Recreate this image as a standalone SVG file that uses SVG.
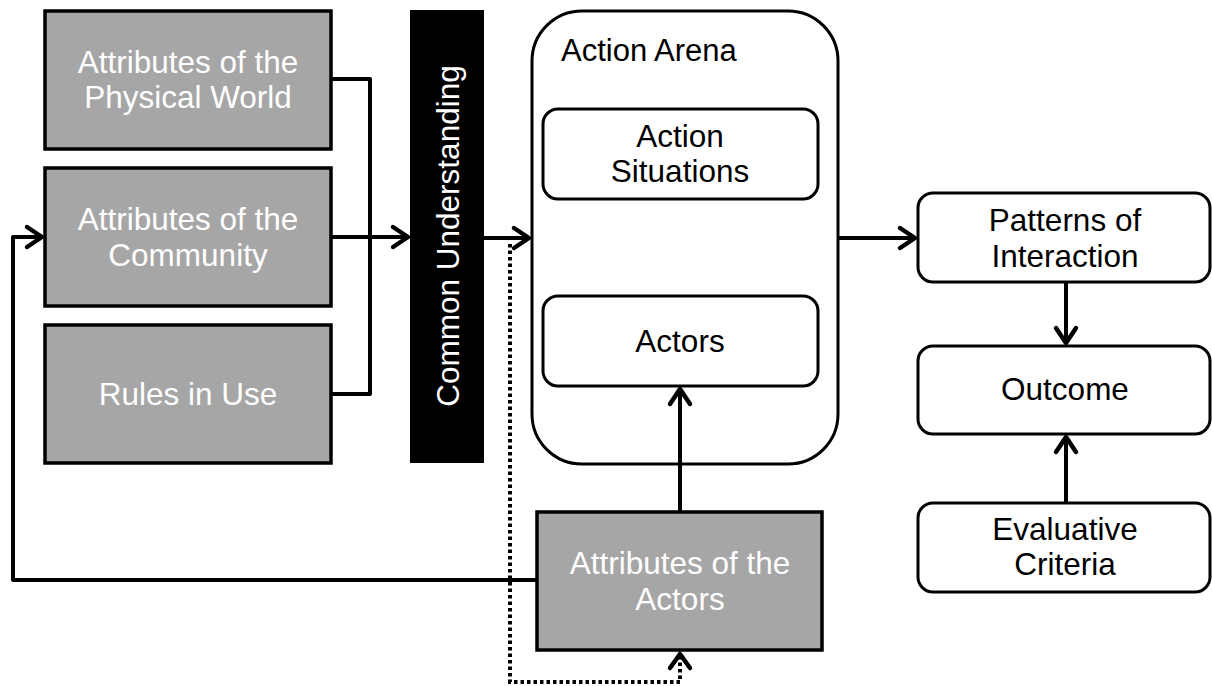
<svg xmlns="http://www.w3.org/2000/svg" width="1212" height="686" viewBox="0 0 1212 686">
<style>
.gray{fill:#a6a6a6;stroke:#000;stroke-width:3.5}
.white{fill:#fff;stroke:#000;stroke-width:3}
.wt{font-family:"Liberation Sans",Arial,sans-serif;font-size:31.5px;fill:#fff;text-anchor:middle}
.bt{font-family:"Liberation Sans",Arial,sans-serif;font-size:31.5px;fill:#000;text-anchor:middle}
.ln{fill:none;stroke:#000;stroke-width:4;stroke-linejoin:round}
.dot{fill:none;stroke:#000;stroke-width:4;stroke-dasharray:3.5 3}
</style>
<defs>
<marker id="ah" markerUnits="userSpaceOnUse" markerWidth="30" markerHeight="30" refX="0" refY="0" viewBox="-20 -15 25 30" orient="auto" overflow="visible">
<path d="M -15 -10 L 0 0 L -15 10" fill="none" stroke="#000" stroke-width="4.5" stroke-linecap="round" stroke-linejoin="round"/>
</marker>
</defs>
<rect width="1212" height="686" fill="#fff"/>
<g id="physical-world"><rect class="gray" x="45" y="11" width="286" height="138"/><text class="wt" x="188" y="73">Attributes of the</text><text class="wt" x="188" y="108">Physical World</text></g>
<g id="community"><rect class="gray" x="45" y="168" width="286" height="138"/><text class="wt" x="188" y="230">Attributes of the</text><text class="wt" x="188" y="266">Community</text></g>
<g id="rules"><rect class="gray" x="45" y="325" width="286" height="138"/><text class="wt" x="188" y="405">Rules in Use</text></g>
<g id="common-understanding"><rect x="410" y="10" width="74" height="453" fill="#000"/><text class="wt" font-size="31" transform="translate(459,236) rotate(-90)">Common Understanding</text></g>
<g id="action-arena"><rect class="white" x="532" y="11" width="306" height="453" rx="50"/><text font-family="Liberation Sans,Arial,sans-serif" font-size="31" x="561" y="61">Action Arena</text></g>
<g id="action-situations"><rect class="white" x="543" y="109" width="275" height="90" rx="15"/><text class="bt" x="680" y="147">Action</text><text class="bt" x="680" y="182">Situations</text></g>
<g id="actors"><rect class="white" x="543" y="296" width="275" height="90" rx="15"/><text class="bt" x="680" y="352">Actors</text></g>
<g id="attributes-actors"><rect class="gray" x="537" y="512" width="285" height="138"/><text class="wt" x="680" y="574">Attributes of the</text><text class="wt" x="680" y="610">Actors</text></g>
<g id="patterns"><rect class="white" x="918" y="193" width="292" height="89" rx="15"/><text class="bt" x="1065" y="231">Patterns of</text><text class="bt" x="1065" y="267">Interaction</text></g>
<g id="outcome"><rect class="white" x="918" y="346" width="292" height="88" rx="15"/><text class="bt" x="1065" y="400">Outcome</text></g>
<g id="evaluative"><rect class="white" x="918" y="503" width="292" height="89" rx="15"/><text class="bt" x="1065" y="540">Evaluative</text><text class="bt" x="1065" y="575">Criteria</text></g>
<g id="connectors">
<path class="ln" d="M331 79 H370 V394 H331"/>
<path class="ln" d="M331 237 H408" marker-end="url(#ah)"/>
<path class="ln" d="M484 238 H529" marker-end="url(#ah)"/>
<path class="ln" d="M838 238 H915" marker-end="url(#ah)"/>
<path class="ln" d="M1066 282 V343" marker-end="url(#ah)"/>
<path class="ln" d="M1066 503 V437" marker-end="url(#ah)"/>
<path class="ln" d="M680 512 V389" marker-end="url(#ah)"/>
<path class="ln" d="M537 580 H13 V237 H42" marker-end="url(#ah)"/>
<path class="dot" d="M510 244 V682 H680 V656"/>
<path d="M670 668 L680 654 L690 668" fill="none" stroke="#000" stroke-width="4.5" stroke-linecap="round" stroke-linejoin="round"/>
</g>
</svg>
